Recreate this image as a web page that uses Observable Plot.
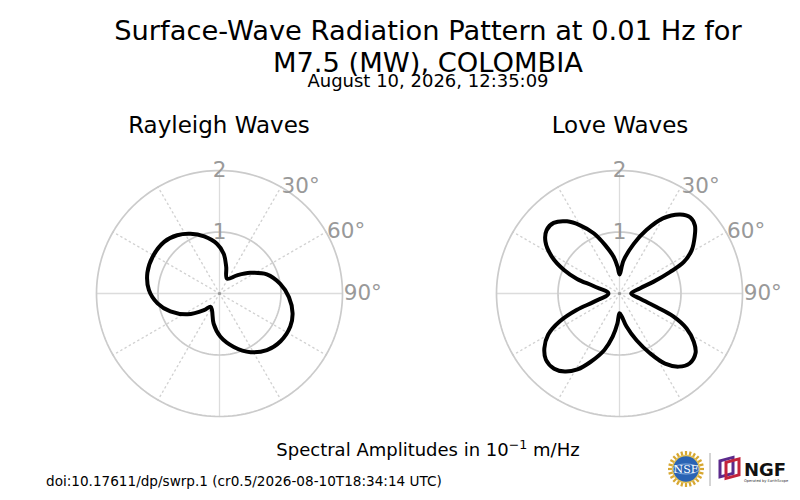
<!DOCTYPE html>
<html>
<head>
<meta charset="utf-8">
<script src="https://cdn.jsdelivr.net/npm/d3@7"></script>
<script src="https://cdn.jsdelivr.net/npm/@observablehq/plot@0.6"></script>
<style>
  html, body { margin: 0; padding: 0; background: #fff; }
  #page { position: relative; width: 800px; height: 500px; overflow: hidden; font-family: "DejaVu Sans", sans-serif; color: #000; }
  .t { position: absolute; white-space: nowrap; line-height: 1; }
  .c { transform: translateX(-50%); }
  .chart { position: absolute; }
</style>
</head>
<body>
<div id="page"></div>
<script>
// ---- data ----
const titleLine1 = "Surface-Wave Radiation Pattern at 0.01 Hz for";
const titleLine2 = "M7.5 (MW), COLOMBIA";
const subtitle = "August 10, 2026, 12:35:09";
const panelTitles = ["Rayleigh Waves", "Love Waves"];
const caption = "doi:10.17611/dp/swrp.1 (cr0.5/2026-08-10T18:34:14 UTC)";

const radialTicks = [1, 2];
const angleTicks = [30, 60, 90];
const spokeAngles = [0, 30, 60, 90, 120, 150, 180, 210, 240, 270, 300, 330];

// azimuth (deg, clockwise from north) and spectral amplitude (10^-1 m/Hz)
const rayleighAzimuth = [6, 14, 27, 44, 56, 68, 81, 93, 105, 115, 128, 140, 152, 165, 179, 191, 204, 214, 223, 237, 250, 261, 273, 286, 299, 313, 324, 334, 345, 357];
const rayleighAmplitude = [0.65, 0.45, 0.27, 0.41, 0.60, 0.83, 1.00, 1.13, 1.23, 1.27, 1.26, 1.20, 1.08, 0.90, 0.70, 0.50, 0.30, 0.26, 0.37, 0.62, 0.85, 1.02, 1.15, 1.22, 1.24, 1.23, 1.17, 1.08, 0.96, 0.81];

const loveAzimuth = [0, 7, 16, 23, 30, 37.5, 43, 48, 53, 59, 64, 67, 71, 76, 90, 104, 110, 113, 117.5, 123, 128, 135, 141, 147, 153, 160, 168, 174, 180, 184, 189, 195, 203, 209, 215, 221, 228, 234, 240, 245, 249, 252, 270, 286, 289, 293, 298.5, 305, 311, 317, 324, 330, 337, 343.5, 351, 356];
const loveAmplitude = [0.31, 0.54, 0.84, 1.12, 1.41, 1.62, 1.69, 1.65, 1.53, 1.37, 1.16, 0.89, 0.58, 0.34, 0.19, 0.34, 0.64, 0.95, 1.23, 1.44, 1.57, 1.61, 1.53, 1.36, 1.09, 0.81, 0.55, 0.38, 0.32, 0.49, 0.71, 0.95, 1.21, 1.41, 1.55, 1.62, 1.61, 1.51, 1.34, 1.07, 0.74, 0.44, 0.18, 0.44, 0.73, 0.98, 1.25, 1.47, 1.57, 1.57, 1.45, 1.28, 1.06, 0.82, 0.60, 0.43];

// ---- layout ----
const page = document.getElementById("page");
function addText(html, x, baseline, size, opts = {}) {
  const d = document.createElement("div");
  d.className = "t" + (opts.center ? " c" : "");
  d.style.left = x + "px";
  d.style.top = (baseline - 0.846 * size) + "px";
  d.style.fontSize = size + "px";
  if (opts.color) d.style.color = opts.color;
  if (opts.weight) d.style.fontWeight = opts.weight;
  d.innerHTML = html;
  page.appendChild(d);
  return d;
}

addText(titleLine1, 428, 40, 27.3, {center: true});
addText(titleLine2, 428, 72.5, 27.3, {center: true});
addText(subtitle, 428, 87.5, 18, {center: true});
addText(panelTitles[0], 219, 133, 23, {center: true});
addText(panelTitles[1], 620, 133, 23, {center: true});
addText('Spectral Amplitudes in 10<span style="font-size:0.7em;position:relative;top:-0.55em">\u22121</span> m/Hz', 428, 456, 18, {center: true});
addText(caption, 46, 486.5, 13.6);

const rad = Math.PI / 180;
const S = 61.5; // pixels per amplitude unit
const rMax = 2;

function polarChart(az, amp, cx, cy) {
  const W = 360, H = 300;
  const curve = az.map((a, i) => ({x: amp[i] * Math.sin(a * rad), y: amp[i] * Math.cos(a * rad)}));
  const rings = radialTicks.flatMap(r => d3.range(0, 361, 2).map(t => ({r, x: r * Math.sin(t * rad), y: r * Math.cos(t * rad)})));
  const spokes = spokeAngles.flatMap(t => [{t, x: 0, y: 0}, {t, x: rMax * Math.sin(t * rad), y: rMax * Math.cos(t * rad)}]);
  const chart = Plot.plot({
    width: W,
    height: H,
    margin: 0,
    style: {background: "transparent", overflow: "visible", fontFamily: "DejaVu Sans"},
    x: {domain: [-W / 2 / S, W / 2 / S], axis: null},
    y: {domain: [-H / 2 / S, H / 2 / S], axis: null},
    marks: [
      Plot.line(spokes.filter(d => d.t % 90 === 0), {x: "x", y: "y", z: "t", stroke: "#dcdcdc", strokeWidth: 1.3}),
      Plot.line(spokes.filter(d => d.t % 90 !== 0), {x: "x", y: "y", z: "t", stroke: "#d2d2d2", strokeWidth: 1.4, strokeDasharray: "1.3,3.6"}),
      Plot.line(rings, {x: "x", y: "y", z: "r", stroke: "#cbcbcb", strokeWidth: 1.7}),
      Plot.dot([{x: 0, y: 0}], {x: "x", y: "y", r: 1.6, fill: "#999", stroke: null}),
      Plot.line(curve, {x: "x", y: "y", curve: "catmull-rom-closed", stroke: "#000", strokeWidth: 4, strokeLinejoin: "round"}),
      Plot.text(radialTicks, {x: () => 0, y: d => d, text: d => String(d), fill: "#999", fontSize: 21.5, textAnchor: "middle", lineAnchor: "middle"}),
      Plot.text(angleTicks, {x: d => 2.02 * Math.sin(d * rad), y: d => 2.02 * Math.cos(d * rad), text: d => d + "\u00b0", fill: "#999", fontSize: 21.5, textAnchor: "start", lineAnchor: "middle"})
    ]
  });
  chart.classList.add("chart");
  chart.style.left = (cx - W / 2) + "px";
  chart.style.top = (cy - H / 2) + "px";
  chart.style.position = "absolute";
  page.appendChild(chart);
}

polarChart(rayleighAzimuth, rayleighAmplitude, 219, 293);
polarChart(loveAzimuth, loveAmplitude, 619, 293);

// ---- logos (decorative) ----
const logo = document.createElementNS("http://www.w3.org/2000/svg", "svg");
logo.setAttribute("width", 140);
logo.setAttribute("height", 50);
logo.style.position = "absolute";
logo.style.left = "660px";
logo.style.top = "444px";
let rays = "";
for (let i = 0; i < 24; i++) {
  const a = i * 15 * rad;
  rays += `<line x1="${26 + 12 * Math.cos(a)}" y1="${25 + 12 * Math.sin(a)}" x2="${26 + 18 * Math.cos(a)}" y2="${25 + 18 * Math.sin(a)}" stroke="#d7a731" stroke-width="2.2"/>`;
}
logo.innerHTML = rays +
  `<circle cx="26" cy="25" r="13.5" fill="#2a63b4" stroke="#e3c25a" stroke-width="1.5"/>
   <ellipse cx="26" cy="25" rx="13" ry="5" fill="none" stroke="#9fc1ea" stroke-width="0.8"/>
   <text x="26" y="29" text-anchor="middle" font-family="DejaVu Serif, serif" font-size="11" fill="#fff">NSF</text>
   <line x1="50" y1="9" x2="50" y2="42" stroke="#aaa" stroke-width="1"/>
   <rect x="60" y="15" width="13" height="16" fill="none" stroke="#5b2a8c" stroke-width="3" transform="skewY(-15) translate(0,18)"/>
   <rect x="66" y="17" width="13" height="16" fill="none" stroke="#c2233b" stroke-width="3" transform="skewY(-15) translate(0,19)"/>
   <text x="84" y="32" font-family="DejaVu Sans" font-weight="bold" font-size="18" fill="#111">NGF</text>
   <text x="84" y="38" font-family="DejaVu Sans" font-size="3.6" fill="#333">Operated by EarthScope</text>`;
page.appendChild(logo);
</script>
</body>
</html>
